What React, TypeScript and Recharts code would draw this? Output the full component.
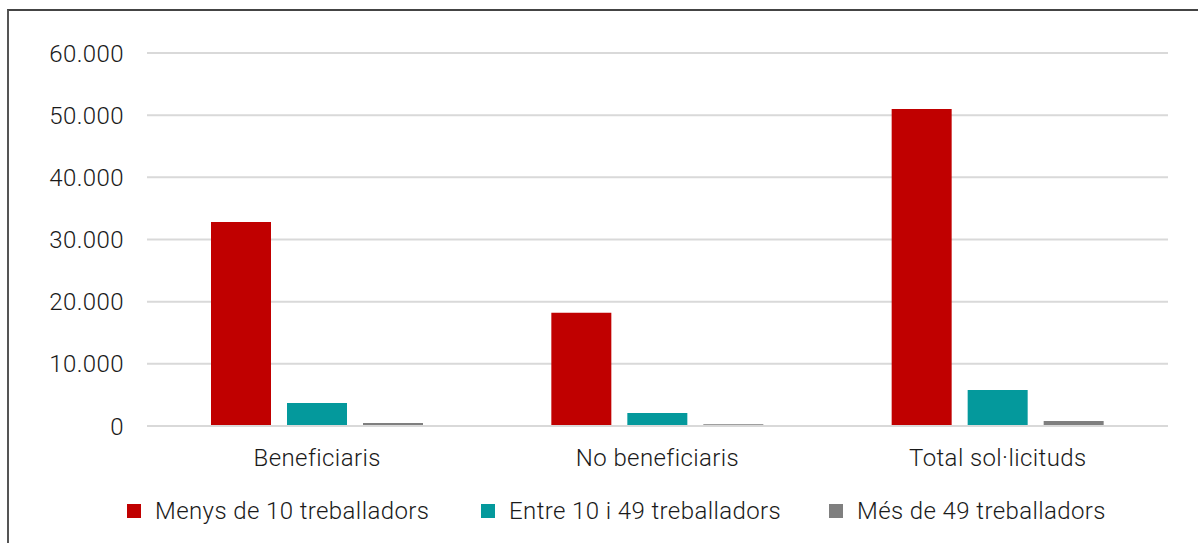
import React from 'react';
import { BarChart, Bar, XAxis, YAxis, CartesianGrid, Legend } from 'recharts';

const categories = ['Beneficiaris', 'No beneficiaris', 'Total sol·licituds'];
const menys10 = [32800, 18200, 51000];
const entre10i49 = [3700, 2100, 5800];
const mes49 = [500, 300, 800];
const yTicks = [0, 10000, 20000, 30000, 40000, 50000, 60000];

const seriesNames = ['Menys de 10 treballadors', 'Entre 10 i 49 treballadors', 'Més de 49 treballadors'];
const seriesColors = ['#C00000', '#04999C', '#7F7F7F'];

const data = categories.map((c, i) => ({
  name: c,
  menys: menys10[i],
  entre: entre10i49[i],
  mes: mes49[i],
}));

const FONT = 'Roboto, "Liberation Sans", Arial, sans-serif';
const FS = 24;
const LS = 0.4;

const fmt = (v: number) => String(v).replace(/\B(?=(\d{3})+(?!\d))/g, '.');

const itemWidths = [354, 348, 330];

const renderLegend = () => (
  <div
    style={{
      display: 'flex',
      alignItems: 'center',
      height: 40,
      paddingLeft: 127,
      fontFamily: FONT,
      fontWeight: 300,
      fontSize: FS,
      letterSpacing: LS,
      color: '#1a1a1a',
    }}
  >
    {seriesNames.map((n, i) => (
      <div key={n} style={{ display: 'flex', alignItems: 'center', width: itemWidths[i] }}>
        <div style={{ width: 14, height: 14, background: seriesColors[i], marginRight: 14 }} />
        <span style={{ whiteSpace: 'nowrap' }}>{n}</span>
      </div>
    ))}
  </div>
);

export default function App() {
  return (
    <div style={{ position: 'absolute', left: 0, top: 0, width: 1198, height: 543, background: '#fff', overflow: 'hidden' }}>
      <div
        style={{
          position: 'absolute',
          left: 7,
          top: 9,
          width: 1200,
          height: 540,
          borderTop: '2px solid #444',
          borderLeft: '2px solid #555',
        }}
      />
      <div style={{ position: 'absolute', left: 0, top: 0 }}>
        <BarChart
          width={1198}
          height={543}
          data={data}
          margin={{ top: 53, right: 30, bottom: 12, left: 0 }}
          barGap={16}
        >
          <CartesianGrid vertical={false} stroke="#d9d9d9" strokeWidth={2} />
          <XAxis
            dataKey="name"
            axisLine={{ stroke: '#d9d9d9', strokeWidth: 2 }}
            tickLine={false}
            tickSize={0}
            tickMargin={23}
            height={65}
            tick={{ fill: '#1a1a1a', fontSize: FS, fontFamily: FONT, fontWeight: 300, letterSpacing: LS }}
          />
          <YAxis
            width={147}
            domain={[0, 60000]}
            ticks={yTicks}
            axisLine={false}
            tickLine={false}
            tickSize={0}
            tickMargin={23}
            tickFormatter={fmt}
            tick={{ fill: '#1a1a1a', fontSize: FS, fontFamily: FONT, fontWeight: 300, letterSpacing: LS }}
          />
          <Legend verticalAlign="bottom" align="left" content={renderLegend} wrapperStyle={{ left: 0, width: 1198 }} />
          <Bar dataKey="menys" name={seriesNames[0]} fill={seriesColors[0]} barSize={60} isAnimationActive={false} />
          <Bar dataKey="entre" name={seriesNames[1]} fill={seriesColors[1]} barSize={60} isAnimationActive={false} />
          <Bar dataKey="mes" name={seriesNames[2]} fill={seriesColors[2]} barSize={60} isAnimationActive={false} />
        </BarChart>
      </div>
    </div>
  );
}
